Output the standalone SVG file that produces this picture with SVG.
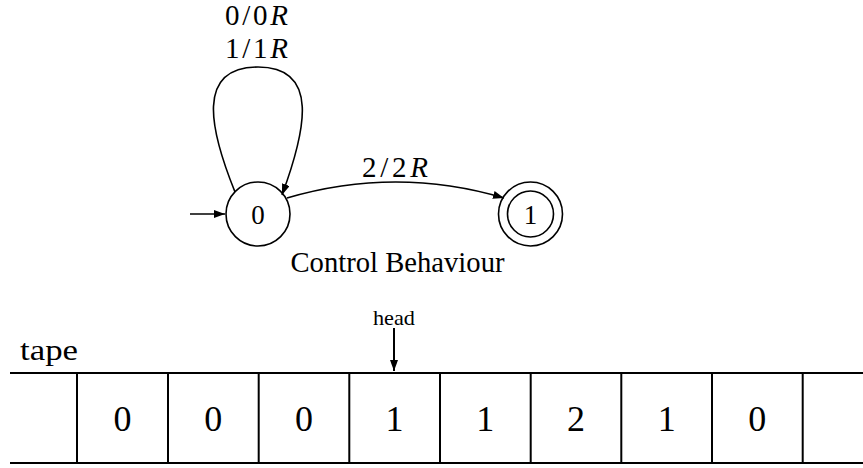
<svg xmlns="http://www.w3.org/2000/svg" width="863" height="468" viewBox="0 0 863 468">
<defs>
<style>
text{font-family:'Liberation Serif','Times New Roman',serif;fill:#000}
.m{text-anchor:middle}
.ln{stroke:#000;stroke-width:1.6;fill:none}
.tp{stroke:#000;stroke-width:2;fill:none}
</style>
<marker id="ah" markerUnits="userSpaceOnUse" markerWidth="12" markerHeight="10" refX="11" refY="4" orient="auto">
<path d="M0,0 L11,4 L0,8 Z" fill="#000"/>
</marker>
</defs>
<rect width="863" height="468" fill="#fff"/>
<g id="connectors">
<path class="ln" d="M190,214 L225,214" marker-end="url(#ah)"/>
<path class="ln" d="M235,192 C210,130 195,67 258,67 C320,67 306,130 282,195" marker-end="url(#ah)"/>
<path class="ln" d="M287,198 Q396,166 504,198" marker-end="url(#ah)"/>
<path class="tp" d="M394,328 L394,371" marker-end="url(#ah)"/>
</g>
<g id="q0">
<circle class="ln" cx="258" cy="214" r="32"/>
<text class="m" x="258" y="224" font-size="27">0</text>
</g>
<g id="q1">
<circle class="ln" cx="530.5" cy="214" r="32"/>
<circle class="ln" cx="530.5" cy="214" r="23"/>
<text class="m" x="530.5" y="224" font-size="27">1</text>
</g>
<g id="labels">
<text class="m" x="256.5" y="24.5" font-size="29" textLength="63" lengthAdjust="spacing">0/0<tspan font-style="italic">R</tspan></text>
<text class="m" x="256.5" y="57.5" font-size="29" textLength="63" lengthAdjust="spacing">1/1<tspan font-style="italic">R</tspan></text>
<text class="m" x="395" y="176.5" font-size="29" textLength="66" lengthAdjust="spacing">2/2<tspan font-style="italic">R</tspan></text>
<text class="m" x="397.5" y="272" font-size="29" textLength="214" lengthAdjust="spacingAndGlyphs">Control Behaviour</text>
<text class="m" x="394" y="325" font-size="21" textLength="42" lengthAdjust="spacingAndGlyphs">head</text>
<text x="20" y="360" font-size="29" textLength="58" lengthAdjust="spacingAndGlyphs">tape</text>
</g>
<g id="tape">
<path class="tp" d="M10,373 L863,373 M10,463 L863,463 M77,373 V463 M168,373 V463 M258.7,373 V463 M349.3,373 V463 M440,373 V463 M530.7,373 V463 M621.3,373 V463 M712,373 V463 M802.7,373 V463"/>
<g font-size="36">
<text class="m" x="122.5" y="431">0</text>
<text class="m" x="213.2" y="431">0</text>
<text class="m" x="303.9" y="431">0</text>
<text class="m" x="394.6" y="431">1</text>
<text class="m" x="485.3" y="431">1</text>
<text class="m" x="576" y="431">2</text>
<text class="m" x="666.7" y="431">1</text>
<text class="m" x="757.3" y="431">0</text>
</g>
</g>
</svg>
